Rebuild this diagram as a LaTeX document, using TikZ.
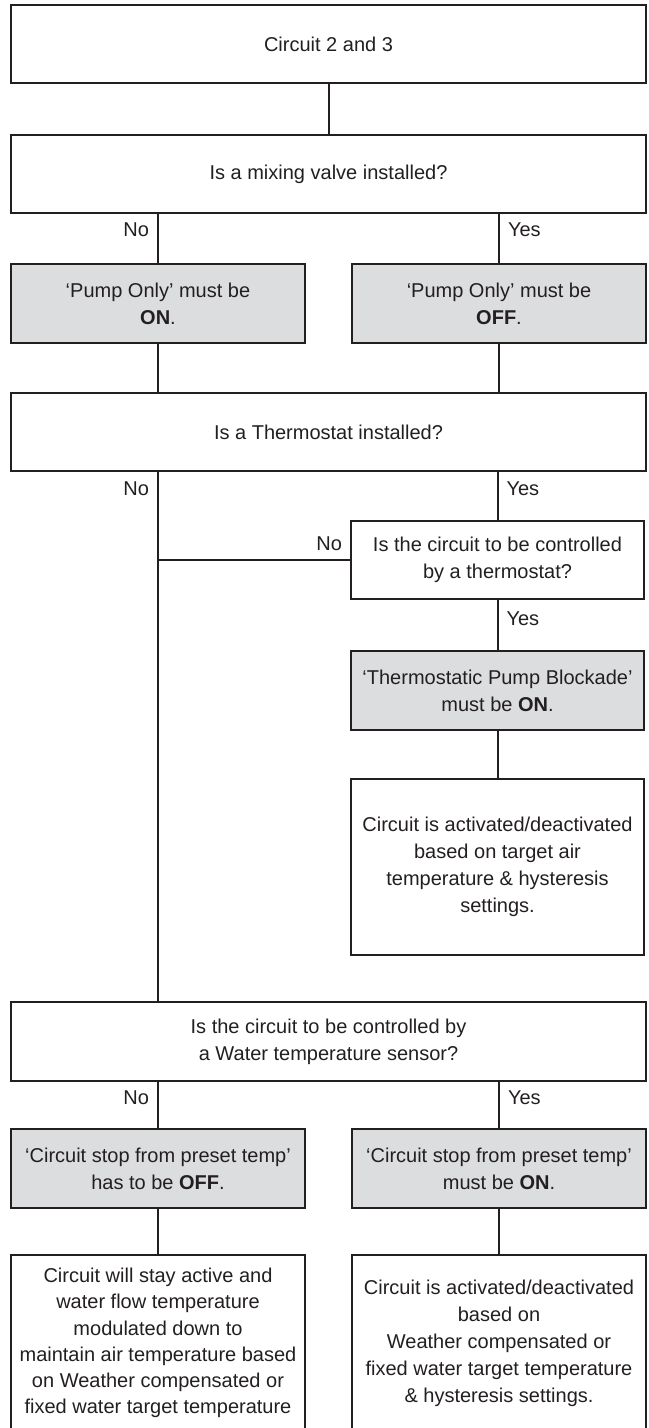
\documentclass[tikz,border=0pt]{standalone}
\usepackage{fontspec}
\setmainfont{Liberation Sans}
\usetikzlibrary{positioning}
\definecolor{boxgray}{RGB}{220,221,223}
\definecolor{inkgray}{RGB}{35,31,32}

\begin{document}
\begin{tikzpicture}[
    node distance=25pt,
    every node/.style={text=inkgray},
    widebox/.style={
        rectangle, draw=inkgray, line width=1pt, outer sep=0pt,
        minimum width=317.5pt, minimum height=39pt,
        align=center, font=\fontsize{10pt}{13.5pt}\selectfont, inner sep=2pt
    },
    halfbox/.style={
        rectangle, draw=inkgray, line width=1pt, outer sep=0pt,
        minimum width=147pt, minimum height=39.5pt,
        align=center, font=\fontsize{10pt}{13.5pt}\selectfont, inner sep=2pt
    },
    setting/.style={halfbox, fill=boxgray},
    answer/.style={font=\fontsize{10pt}{12pt}\selectfont, inner sep=4pt},
    link/.style={draw=inkgray, line width=1pt}
]
\useasboundingbox (0,0) rectangle (324pt,-714pt);

% Main questions
\node[widebox, anchor=north west] (circuit) at (5.5pt,-2.5pt) {Circuit 2 and 3};
\node[widebox, below=26pt of circuit] (mixing) {Is a mixing valve installed?};

% Pump Only settings
\node[setting, below=25.5pt of mixing.south west, anchor=north west] (pumpon)
    {‘Pump Only’ must be\\\textbf{ON}.};
\node[setting, below=25.5pt of mixing.south east, anchor=north east] (pumpoff)
    {‘Pump Only’ must be\\\textbf{OFF}.};

% Thermostat branch
\node[widebox, below=25pt of pumpon.south west, anchor=north west] (thermo)
    {Is a Thermostat installed?};
\node[halfbox, minimum width=146.5pt, minimum height=39pt,
      below=25pt of thermo.south east, anchor=north east, xshift=-1pt] (byroom)
    {Is the circuit to be controlled\\by a thermostat?};
\node[setting, minimum width=146.5pt, below=26pt of byroom] (blockade)
    {‘Thermostatic Pump Blockade’\\must be \textbf{ON}.};
\node[halfbox, minimum width=146.5pt, minimum height=88pt, below=24.5pt of blockade] (airtemp)
    {Circuit is activated/deactivated\\based on target air\\temperature \& hysteresis\\settings.};

% Water sensor branch
\node[widebox, minimum height=39.5pt, anchor=north west, yshift=-23.5pt] (water)
    at (airtemp.south -| thermo.west)
    {Is the circuit to be controlled by\\a Water temperature sensor?};
\node[setting, below=24pt of water.south west, anchor=north west] (stopoff)
    {‘Circuit stop from preset temp’\\has to be \textbf{OFF}.};
\node[setting, below=24pt of water.south east, anchor=north east] (stopon)
    {‘Circuit stop from preset temp’\\must be \textbf{ON}.};
\node[halfbox, minimum height=88pt, below=23.5pt of stopoff,
      font=\fontsize{10pt}{13.1pt}\selectfont] (keepactive)
    {Circuit will stay active and\\water flow temperature\\modulated down to\\maintain air temperature based\\on Weather compensated or\\fixed water target temperature};
\node[halfbox, minimum height=88pt, below=23.5pt of stopon] (waterhyst)
    {Circuit is activated/deactivated\\based on\\Weather compensated or\\fixed water target temperature\\\& hysteresis settings.};

% Connectors
\draw[link] (circuit) -- (mixing);
\draw[link] (mixing.south -| pumpon)  -- node[answer, pos=0.33, left]  {No}  (pumpon);
\draw[link] (mixing.south -| pumpoff) -- node[answer, pos=0.33, right] {Yes} (pumpoff);
\draw[link] (pumpon)  -- (thermo.north -| pumpon);
\draw[link] (pumpoff) -- (thermo.north -| pumpoff);

\coordinate (junction) at (byroom.west -| pumpon);
\draw[link] (thermo.south -| pumpon) -- node[answer, pos=0.2, left] {No} (junction)
    -- (water.north -| pumpon);
\draw[link] (byroom) -- node[answer, pos=0, above left] {No} (junction);
\draw[link] (thermo.south -| byroom) -- node[answer, pos=0.36, right] {Yes} (byroom);
\draw[link] (byroom)   -- node[answer, pos=0.38, right] {Yes} (blockade);
\draw[link] (blockade) -- (airtemp);

\draw[link] (water.south -| stopoff) -- node[answer, pos=0.35, left]  {No}  (stopoff);
\draw[link] (water.south -| stopon)  -- node[answer, pos=0.35, right] {Yes} (stopon);
\draw[link] (stopoff) -- (keepactive);
\draw[link] (stopon)  -- (waterhyst);

\end{tikzpicture}
\end{document}
